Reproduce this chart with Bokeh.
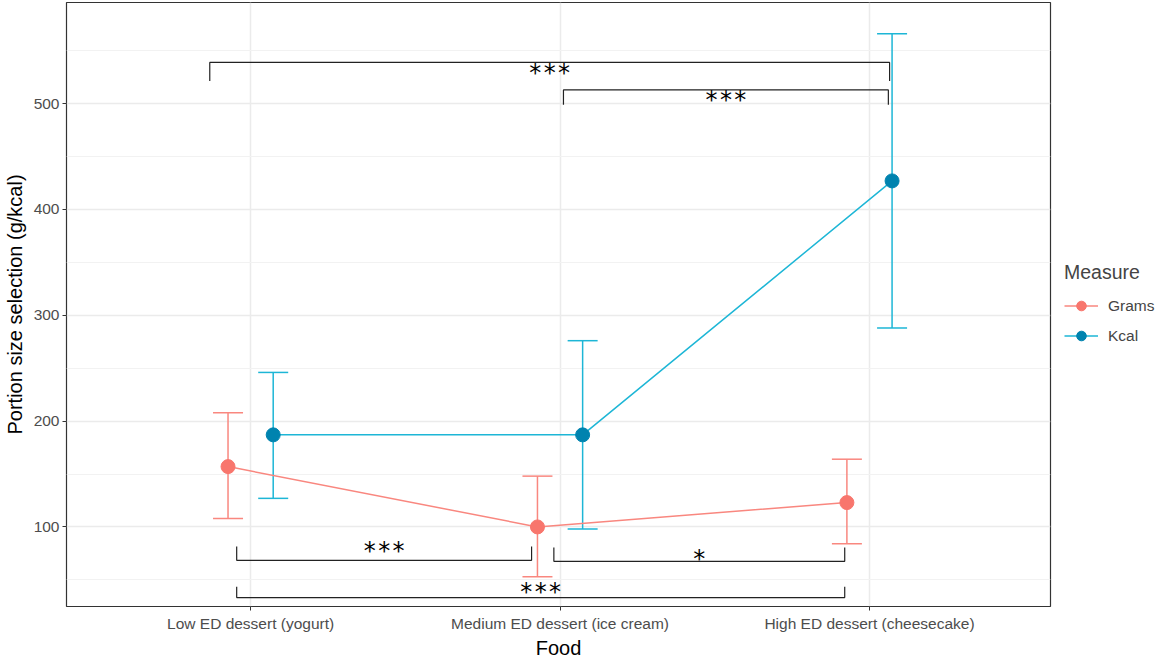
from bokeh.plotting import figure
from bokeh.models import (ColumnDataSource, FixedTicker, Whisker, TeeHead, Legend,
                          LegendItem, Range1d)
from bokeh.core.properties import value
from bokeh.embed import file_html
from bokeh.resources import INLINE

# ---- data ----
foods = ["Low ED dessert (yogurt)", "Medium ED dessert (ice cream)", "High ED dessert (cheesecake)"]
grams_mean = [157, 100, 123]
grams_lower = [108, 53, 84]
grams_upper = [208, 148, 164]
kcal_mean = [187, 187, 427]
kcal_lower = [127, 98, 288]
kcal_upper = [246, 276, 566]
y_ticks = [100, 200, 300, 400, 500]
y_minor = [50, 150, 250, 350, 450, 550]

# significance brackets: left x, right x, line y, tip y, label, label y
br_left = [0.955, 1.98, 0.955, 0.868, 2.011]
br_right = [1.908, 2.92, 2.92, 3.065, 3.061]
br_line = [68.4, 67.5, 33.2, 539.0, 513.0]
br_tip = [81.4, 80.5, 43.4, 521.5, 499.0]
br_label = ["***", "*", "***", "***", "***"]
br_label_y = [77.0, 70.0, 38.5, 529.0, 503.0]

dodge = 0.073
cat_pos = [i + 1 for i in range(len(foods))]

GR_PT = "#F8766D"
GR_LN = "#F9877F"
KC_PT = "#0083AF"
KC_LN = "#1DB6D6"

src_g = ColumnDataSource(dict(x=[c - dodge for c in cat_pos], y=grams_mean,
                              lo=grams_lower, hi=grams_upper))
src_k = ColumnDataSource(dict(x=[c + dodge for c in cat_pos], y=kcal_mean,
                              lo=kcal_lower, hi=kcal_upper))

p = figure(frame_width=984, frame_height=604, output_backend="svg", toolbar_location=None,
           x_range=Range1d(0.405, 3.585), y_range=Range1d(24.8, 595.6),
           min_border_left=0, min_border_top=2, min_border_right=0, min_border_bottom=0)

p.background_fill_color = "white"
p.outline_line_color = "#333333"
p.outline_line_width = 1.2

# grids
p.xgrid.ticker = FixedTicker(ticks=cat_pos)
p.xgrid.grid_line_color = "#EBEBEB"
p.xgrid.grid_line_width = 1.5
p.ygrid.ticker = FixedTicker(ticks=y_ticks, minor_ticks=y_minor)
p.ygrid.grid_line_color = "#EBEBEB"
p.ygrid.grid_line_width = 1.5
p.ygrid.minor_grid_line_color = "#F2F2F2"
p.ygrid.minor_grid_line_width = 1.2

# axes
p.xaxis.ticker = FixedTicker(ticks=cat_pos)
p.xaxis.major_label_overrides = {c: f for c, f in zip(cat_pos, foods)}
p.yaxis.ticker = FixedTicker(ticks=y_ticks)
for ax in (p.xaxis[0], p.yaxis[0]):
    ax.axis_line_color = None
    ax.major_tick_line_color = "#333333"
    ax.major_tick_out = 4
    ax.major_tick_in = 0
    ax.minor_tick_line_color = None
    ax.major_label_text_font = "Liberation Sans"
    ax.major_label_text_font_size = "15.5px"
    ax.major_label_text_color = "#4D4D4D"
    ax.axis_label_text_font = "Liberation Sans"
    ax.axis_label_text_font_size = "20px"
    ax.axis_label_text_font_style = "normal"
    ax.axis_label_text_color = "black"
p.xaxis.axis_label = "Food"
p.yaxis.axis_label = "Portion size selection (g/kcal)"
p.xaxis.major_label_standoff = 4
p.xaxis.axis_label_standoff = 2
p.yaxis.major_label_standoff = 3
p.yaxis.axis_label_standoff = 5

# error bars
wg = Whisker(base="x", upper="hi", lower="lo", source=src_g, dimension="height",
             line_color=GR_LN, line_width=1.5,
             upper_head=TeeHead(size=30, line_color=GR_LN, line_width=1.5),
             lower_head=TeeHead(size=30, line_color=GR_LN, line_width=1.5))
wk = Whisker(base="x", upper="hi", lower="lo", source=src_k, dimension="height",
             line_color=KC_LN, line_width=1.5,
             upper_head=TeeHead(size=30, line_color=KC_LN, line_width=1.5),
             lower_head=TeeHead(size=30, line_color=KC_LN, line_width=1.5))
p.add_layout(wg)
p.add_layout(wk)

lg = p.line("x", "y", source=src_g, line_color=GR_LN, line_width=1.5)
lk = p.line("x", "y", source=src_k, line_color=KC_LN, line_width=1.5)
pg = p.scatter("x", "y", source=src_g, size=14, fill_color=GR_PT, line_color=GR_PT)
pk = p.scatter("x", "y", source=src_k, size=14, fill_color=KC_PT, line_color=KC_PT)

# significance brackets
xs, ys = [], []
for l, r, yl, yt in zip(br_left, br_right, br_line, br_tip):
    xs.append([l, l, r, r])
    ys.append([yt, yl, yl, yt])
p.multi_line(xs, ys, line_color="#222222", line_width=1.2)
src_lab = ColumnDataSource(dict(x=[(l + r) / 2 for l, r in zip(br_left, br_right)],
                                y=br_label_y, t=["\u200a".join(s) for s in br_label]))
p.text("x", "y", text="t", source=src_lab, text_align="center", text_baseline="middle",
       text_font=value("DejaVu Sans"), text_font_size="24px", text_color="black")

legend = Legend(items=[LegendItem(label="Grams", renderers=[lg, pg]),
                       LegendItem(label="Kcal", renderers=[lk, pk])],
                title="Measure", location="center_left")
legend.title_text_font = "Liberation Sans"
legend.title_text_font_size = "19.5px"
legend.title_text_font_style = "normal"
legend.title_standoff = 10
legend.label_text_font = "Liberation Sans"
legend.label_text_font_size = "15.5px"
legend.border_line_color = None
legend.background_fill_alpha = 0
legend.glyph_width = 34
legend.glyph_height = 24
legend.label_standoff = 10
legend.spacing = 6
legend.padding = 4
legend.margin = 14
p.add_layout(legend, "right")

open("out.html", "w").write(file_html(p, INLINE))
